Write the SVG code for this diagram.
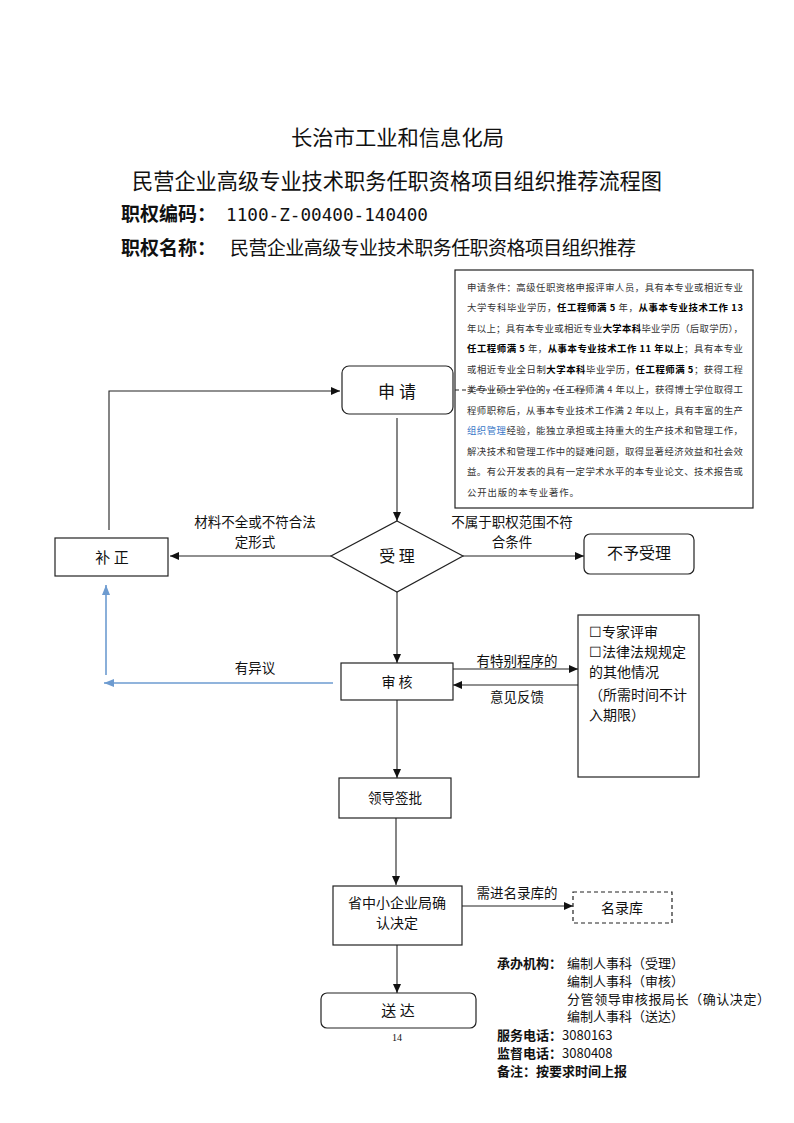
<svg xmlns="http://www.w3.org/2000/svg" width="794" height="1123" viewBox="0 0 794 1123">
<style>
.t{font-family:"Noto Sans CJK SC","Liberation Sans",sans-serif;fill:#111}
.c{text-anchor:middle}
.b{font-weight:bold}
.sm{font-size:9.4px;fill:#333}
.sm .b{fill:#000}
.box{fill:#fff;stroke:#222;stroke-width:1.2}
.ln{fill:none;stroke:#222;stroke-width:1.1}
.blue{fill:none;stroke:#6d9bd0;stroke-width:1.6}
</style>
<defs>
<marker id="ah" markerUnits="userSpaceOnUse" markerWidth="10" markerHeight="10" refX="9" refY="5" orient="auto">
<path d="M0,1 L9,5 L0,9 Z" fill="#111"/>
</marker>
<marker id="ahb" markerUnits="userSpaceOnUse" markerWidth="12" markerHeight="10" refX="10" refY="5" orient="auto">
<path d="M0,1 L10,5 L0,9 Z" fill="#6d9bd0"/>
</marker>
</defs>
<rect width="794" height="1123" fill="#fff"/>

<g id="header">
<text class="t" x="291" y="145" font-size="21" textLength="213" lengthAdjust="spacingAndGlyphs">长治市工业和信息化局</text>
<text class="t" x="132" y="189" font-size="22" textLength="530" lengthAdjust="spacingAndGlyphs">民营企业高级专业技术职务任职资格项目组织推荐流程图</text>
<text class="t b" x="121" y="221" font-size="19">职权编码：</text>
<text x="226" y="221" font-size="17.5" font-family="DejaVu Sans Mono,Liberation Mono,monospace" textLength="202" lengthAdjust="spacingAndGlyphs" fill="#111">1100-Z-00400-140400</text>
<text class="t b" x="121" y="255" font-size="19">职权名称：</text>
<text class="t" x="230" y="255" font-size="19" textLength="406">民营企业高级专业技术职务任职资格项目组织推荐</text>
</g>

<g id="conditions">
<rect class="box" x="455" y="270" width="298" height="238"/>
<text class="t sm" x="467" y="290.5" textLength="276">申请条件：高级任职资格申报评审人员，具有本专业或相近专业</text>
<text class="t sm" x="467" y="311" textLength="276">大学专科毕业学历，<tspan class="b">任工程师满 5</tspan> 年，<tspan class="b">从事本专业技术工作 13</tspan></text>
<text class="t sm" x="467" y="331.5" textLength="276">年以上；具有本专业或相近专业<tspan class="b">大学本科</tspan>毕业学历（后取学历），</text>
<text class="t sm" x="467" y="352" textLength="276"><tspan class="b">任工程师满 5</tspan> 年，<tspan class="b">从事本专业技术工作 11 年以上</tspan>；具有本专业</text>
<text class="t sm" x="467" y="372.5" textLength="276">或相近专业全日制<tspan class="b">大学本科</tspan>毕业学历，<tspan class="b">任工程师满 5</tspan>；获得工程</text>
<text class="t sm" x="467" y="393" textLength="276">类专业硕士学位的，任工程师满 4 年以上，获得博士学位取得工</text>
<text class="t sm" x="467" y="413.5" textLength="276">程师职称后，从事本专业技术工作满 2 年以上，具有丰富的生产</text>
<text class="t sm" x="467" y="434" textLength="276"><tspan fill="#3a78c8">组织管理</tspan>经验，能独立承担或主持重大的生产技术和管理工作，</text>
<text class="t sm" x="467" y="454.5" textLength="276">解决技术和管理工作中的疑难问题，取得显著经济效益和社会效</text>
<text class="t sm" x="467" y="475" textLength="276">益。有公开发表的具有一定学术水平的本专业论文、技术报告或</text>
<text class="t sm" x="467" y="495.5" textLength="112">公开出版的本专业著作。</text>
</g>

<g id="connectors">
<line class="ln" x1="455" y1="390" x2="588" y2="390" stroke-dasharray="4,3"/>
<line class="ln" x1="397" y1="418" x2="397" y2="521" marker-end="url(#ah)"/>
<polyline class="ln" points="109,530 109,391 340,391" marker-end="url(#ah)"/>
<line class="ln" x1="331" y1="556" x2="170" y2="556" marker-end="url(#ah)"/>
<line class="ln" x1="463" y1="556" x2="584" y2="556" marker-end="url(#ah)"/>
<line class="ln" x1="397" y1="592" x2="397" y2="663" marker-end="url(#ah)"/>
<line class="ln" x1="453" y1="669" x2="578" y2="669" marker-end="url(#ah)"/>
<line class="ln" x1="578" y1="685" x2="453" y2="685" marker-end="url(#ah)"/>
<line class="blue" x1="333" y1="683" x2="104" y2="683" marker-end="url(#ahb)"/>
<line class="blue" x1="106" y1="675" x2="106" y2="585" marker-end="url(#ahb)"/>
<line class="ln" x1="397" y1="700" x2="397" y2="778" marker-end="url(#ah)"/>
<line class="ln" x1="396" y1="818" x2="396" y2="885" marker-end="url(#ah)"/>
<line class="ln" x1="462" y1="906" x2="573" y2="906" marker-end="url(#ah)"/>
<line class="ln" x1="397" y1="945" x2="397" y2="993" marker-end="url(#ah)"/>
<text class="t c" x="255" y="527" font-size="13.5">材料不全或不符合法</text>
<text class="t c" x="255" y="547" font-size="13.5">定形式</text>
<text class="t c" x="512" y="527" font-size="13.5">不属于职权范围不符</text>
<text class="t c" x="512" y="547" font-size="13.5">合条件</text>
<text class="t c" x="255" y="673" font-size="13.5">有异议</text>
<text class="t c" x="517" y="666" font-size="13.5">有特别程序的</text>
<text class="t c" x="517" y="702" font-size="13.5">意见反馈</text>
<text class="t c" x="517" y="898" font-size="13.5">需进名录库的</text>
</g>

<g id="n-apply">
<rect class="box" x="342" y="366" width="111" height="48" rx="7"/>
<text class="t c" x="397" y="398" font-size="17">申 请</text>
</g>

<g id="n-accept">
<polygon class="box" points="397,521 463,556 397,592 331,556"/>
<text class="t c" x="397" y="562" font-size="16">受 理</text>
</g>

<g id="n-correct">
<rect class="box" x="55" y="538" width="113" height="38"/>
<text class="t c" x="112" y="563" font-size="15">补 正</text>
</g>

<g id="n-reject">
<rect class="box" x="584" y="534" width="110" height="40" rx="6"/>
<text class="t c" x="639" y="559" font-size="16">不予受理</text>
</g>

<g id="n-review">
<rect class="box" x="341" y="663" width="112" height="37"/>
<text class="t c" x="397" y="687" font-size="14">审 核</text>
</g>

<g id="n-special">
<rect class="box" x="578" y="615" width="121" height="162"/>
<text class="t" x="589" y="637" font-size="14">☐专家评审</text>
<text class="t" x="589" y="657" font-size="14">☐法律法规规定</text>
<text class="t" x="589" y="677" font-size="14">的其他情况</text>
<text class="t" x="589" y="700" font-size="14">（所需时间不计</text>
<text class="t" x="589" y="720" font-size="14">入期限）</text>
</g>

<g id="n-sign">
<rect class="box" x="339" y="778" width="112" height="40"/>
<text class="t c" x="395" y="803" font-size="13.5">领导签批</text>
</g>

<g id="n-confirm">
<rect class="box" x="333" y="886" width="129" height="59"/>
<text class="t c" x="397" y="908" font-size="14">省中小企业局确</text>
<text class="t c" x="397" y="928" font-size="14">认决定</text>
</g>

<g id="n-registry">
<rect class="box" x="573" y="892" width="99" height="31" stroke-dasharray="4,3"/>
<text class="t c" x="622" y="913" font-size="14">名录库</text>
</g>

<g id="n-deliver">
<rect class="box" x="321" y="993" width="155" height="35" rx="6"/>
<text class="t c" x="398" y="1016" font-size="15">送 达</text>
</g>

<g id="footer">
<text x="397" y="1041" font-size="10" font-family="Liberation Serif,serif" text-anchor="middle" fill="#111">14</text>
<text class="t b" x="497" y="968" font-size="13">承办机构：</text>
<text class="t" x="567" y="968" font-size="13">编制人事科（受理）</text>
<text class="t" x="567" y="986" font-size="13">编制人事科（审核）</text>
<text class="t" x="567" y="1004" font-size="13" textLength="203">分管领导审核报局长（确认决定）</text>
<text class="t" x="567" y="1021" font-size="13">编制人事科（送达）</text>
<text class="t" x="497" y="1040" font-size="13"><tspan class="b">服务电话：</tspan>3080163</text>
<text class="t" x="497" y="1058" font-size="13"><tspan class="b">监督电话：</tspan>3080408</text>
<text class="t b" x="497" y="1076" font-size="13">备注：按要求时间上报</text>
</g>
</svg>
